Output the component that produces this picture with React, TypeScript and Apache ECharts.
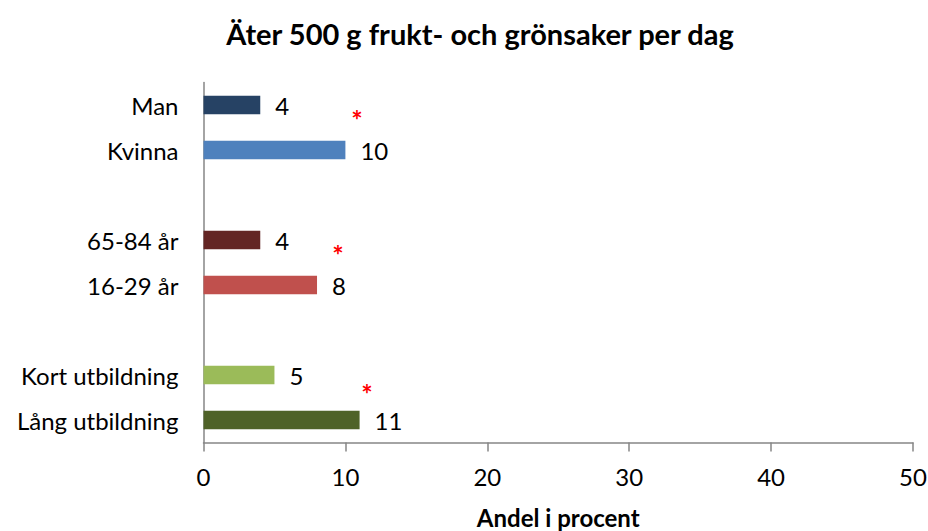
import React, { useEffect, useRef } from "react";
import * as echarts from "echarts";

const title = "Äter 500 g frukt- och grönsaker per dag";
const axisTitle = "Andel i procent";
const categories = ["Man", "Kvinna", " ", "65-84 år", "16-29 år", "  ", "Kort utbildning", "Lång utbildning"];
const values: (number | null)[] = [4, 10, null, 4, 8, null, 5, 11];
const barColors = ["#264264", "#4F81BD", "#000000", "#632523", "#C0504D", "#000000", "#9BBB59", "#4F6228"];
const xTicks = [0, 10, 20, 30, 40, 50];

const FONT = "Lato, 'Open Sans', sans-serif";

export default function App() {
  const ref = useRef<HTMLDivElement>(null);
  useEffect(() => {
    if (!ref.current) return;
    const chart = echarts.init(ref.current, undefined, { renderer: "svg" });
    const star = (x: number, y: number) => ({
      type: "text",
      x,
      y,
      style: {
        text: "*",
        fill: "#FF0000",
        fontSize: 27,
        fontWeight: "bold",
        fontFamily: FONT,
        align: "center",
        verticalAlign: "middle",
      },
    });
    chart.setOption({
      animation: false,
      backgroundColor: "#ffffff",
      title: {
        text: title,
        left: 475,
        top: 14,
        textAlign: "center",
        textStyle: { fontFamily: FONT, fontWeight: "bold", fontSize: 29, color: "#000" },
      },
      grid: { left: 203.5, right: 15, top: 82.5, bottom: 88.5, containLabel: false, outerBoundsMode: "none" },
      xAxis: {
        type: "value",
        min: xTicks[0],
        max: xTicks[xTicks.length - 1],
        interval: 10,
        name: axisTitle,
        nameLocation: "middle",
        nameGap: 63,
        nameTextStyle: { fontFamily: FONT, fontWeight: "bold", fontSize: 24, color: "#000" },
        axisLine: { show: true, lineStyle: { color: "#868686", width: 1.5 } },
        axisTick: { show: true, length: 9, lineStyle: { color: "#868686", width: 1.5 } },
        axisLabel: { fontFamily: FONT, fontSize: 24, color: "#000", margin: 22 },
        splitLine: { show: false },
      },
      yAxis: {
        type: "category",
        data: categories,
        inverse: true,
        axisLine: { show: true, lineStyle: { color: "#868686", width: 1.5 } },
        axisTick: { show: false },
        axisLabel: { fontFamily: FONT, fontSize: 24, color: "#000", margin: 25 },
      },
      series: [
        {
          type: "bar",
          barWidth: 18.5,
          data: values.map((v, i) => ({ value: v, itemStyle: { color: barColors[i] } })),
          label: {
            show: true,
            position: "right",
            distance: 15,
            fontFamily: FONT,
            fontSize: 24,
            color: "#000",
            formatter: (p: any) => (p.value == null ? "" : String(p.value)),
          },
        },
      ],
      graphic: [star(357, 119), star(338, 254), star(367, 393)],
    });
    return () => chart.dispose();
  }, []);
  return <div ref={ref} style={{ width: 928, height: 531, position: "absolute", left: 0, top: 0 }} />;
}
